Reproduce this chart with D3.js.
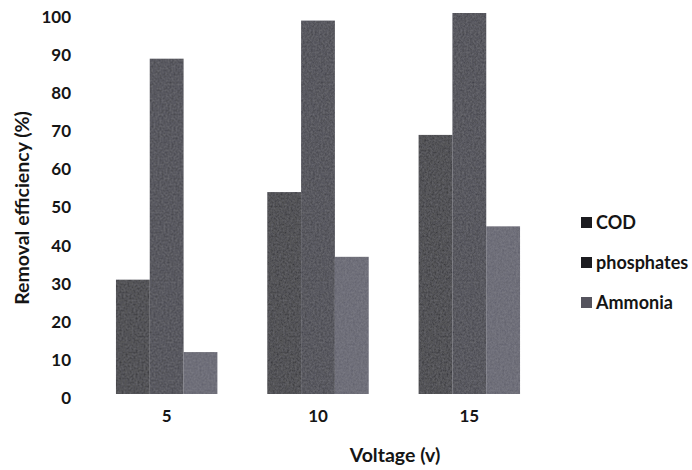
<!DOCTYPE html>
<html>
<head>
<meta charset="utf-8">
<script src="https://cdn.jsdelivr.net/npm/d3@7/dist/d3.min.js"></script>
<style>
  html, body { margin: 0; padding: 0; background: #fff; }
  svg { display: block; }
  text { font-family: Lato, "Open Sans", sans-serif; fill: #151515; }
</style>
</head>
<body>
<svg id="chart" width="692" height="470"></svg>
<script>
// Removal efficiency by applied voltage
const voltages = ["5", "10", "15"];
const seriesNames = ["COD", "phosphates", "Ammonia"];
const codValues = [30, 53, 68];
const phosphateValues = [88, 98, 100];
const ammoniaValues = [11, 36, 44];
const yTicks = [0, 10, 20, 30, 40, 50, 60, 70, 80, 90, 100];
const seriesColors = ["#303036", "#3e3d45", "#5f5e6a"];

const seriesValues = [codValues, phosphateValues, ammoniaValues];

const svg = d3.select("#chart");

// subtle print grain on the filled marks
const defs = svg.append("defs");
const grain = defs.append("filter").attr("id", "grain")
  .attr("x", 0).attr("y", 0).attr("width", 1).attr("height", 1);
grain.append("feTurbulence").attr("type", "fractalNoise")
  .attr("baseFrequency", 0.5).attr("numOctaves", 2).attr("seed", 4).attr("result", "noise");
grain.append("feColorMatrix").attr("in", "noise").attr("type", "matrix")
  .attr("values", "0 0 0 0 0.55  0 0 0 0 0.55  0 0 0 0 0.6  0 0 0 0.22 0")
  .attr("result", "tint");
grain.append("feComposite").attr("in", "tint").attr("in2", "SourceGraphic").attr("operator", "in").attr("result", "tinted");
grain.append("feMerge").selectAll("feMergeNode")
  .data(["SourceGraphic", "tinted"]).join("feMergeNode").attr("in", d => d);

const x0 = d3.scaleBand().domain(voltages).range([91, 545]).paddingInner(0.33).paddingOuter(0.165);
const x1 = d3.scaleBand().domain(seriesNames).range([0, x0.bandwidth()]).padding(0);
const y = d3.scaleLinear().domain([0, 100]).range([394, 13]);

// bars
const groups = svg.append("g").selectAll("g")
  .data(voltages)
  .join("g")
  .attr("transform", d => `translate(${x0(d)},0)`);

groups.selectAll("rect")
  .data((v, i) => seriesNames.map((s, k) => ({ s, value: seriesValues[k][i], k })))
  .join("rect")
  .attr("x", d => x1(d.s))
  .attr("width", x1.bandwidth())
  .attr("y", d => y(d.value))
  .attr("height", d => y(0) - y(d.value))
  .attr("fill", d => seriesColors[d.k])
  .attr("filter", "url(#grain)");

const labelFont = "Lato, 'Open Sans', sans-serif";

// y axis (labels only)
const yAxis = d3.axisLeft(y).tickValues(yTicks).tickSize(0).tickPadding(0);
const gy = svg.append("g").attr("transform", "translate(71,4)").call(yAxis);
gy.select(".domain").remove();
gy.selectAll("text")
  .style("font-family", labelFont)
  .style("font-size", "17px").style("font-weight", "700").attr("fill", "#151515");

// x axis (labels only)
const xAxis = d3.axisBottom(x0).tickSize(0).tickPadding(0);
const gx = svg.append("g").attr("transform", "translate(0,410)").call(xAxis);
gx.select(".domain").remove();
gx.selectAll("text")
  .style("font-family", labelFont)
  .style("font-size", "17px").style("font-weight", "700").attr("fill", "#151515");

// axis titles
svg.append("text")
  .attr("x", 395).attr("y", 462)
  .attr("text-anchor", "middle")
  .style("font-size", "19.5px").style("font-weight", "700")
  .text("Voltage (v)");

svg.append("text")
  .attr("transform", "translate(29,208) rotate(-90)")
  .attr("text-anchor", "middle")
  .style("font-size", "19.5px").style("font-weight", "700")
  .text("Removal efficiency (%)");

// legend
const legend = svg.append("g").attr("transform", "translate(581,223)");
const items = legend.selectAll("g").data(seriesNames).join("g")
  .attr("transform", (d, i) => `translate(0,${i * 40})`);
items.append("rect")
  .attr("x", 0).attr("y", -6).attr("width", 11).attr("height", 11)
  .attr("fill", (d, i) => i === 2 ? "#55545e" : "#1c1c20");
items.append("text")
  .attr("x", 15).attr("y", 0).attr("dy", "0.35em")
  .style("font-size", "18px").style("font-weight", "700")
  .text(d => d);
</script>
</body>
</html>
